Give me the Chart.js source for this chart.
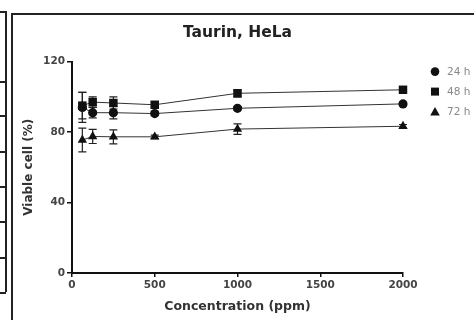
<!DOCTYPE html>
<html>
<head>
<meta charset="utf-8">
<script src="https://cdn.jsdelivr.net/npm/chart.js@4/dist/chart.umd.min.js"></script>
<style>
  html, body { margin: 0; padding: 0; background: #fff; overflow: hidden; }
  #wrap { position: relative; width: 474px; height: 320px; }
  #frame { position: absolute; left: 11px; top: 13px; width: 600px; height: 400px; border: 2px solid #222; }
  #table { position: absolute; left: 0; top: 11px; width: 5px; height: 281px; border-right: 2px solid #222; }
  .row { position: absolute; left: 0; width: 6px; height: 0; border-top: 2px solid #222; }
  #chartBox { position: absolute; left: 0; top: 0; width: 474px; height: 320px; }
</style>
</head>
<body>
<div id="wrap">
  <div id="table">
    <div class="row" style="top:0px"></div>
    <div class="row" style="top:70px"></div>
    <div class="row" style="top:104px"></div>
    <div class="row" style="top:140px"></div>
    <div class="row" style="top:175px"></div>
    <div class="row" style="top:210px"></div>
    <div class="row" style="top:246px"></div>
    <div class="row" style="top:281px"></div>
  </div>
  <div id="frame"></div>
  <div id="chartBox"><canvas id="taurinChart" width="474" height="320"></canvas></div>
</div>
<script>
// Données
const concentrations = [62.5, 125, 250, 500, 1000, 2000];
const seriesLabels = ['24 h', '48 h', '72 h'];
const viable24 = [94, 91, 91, 90.5, 93.5, 96];
const viable48 = [95, 97, 96.5, 95.5, 102, 104];
const viable72 = [75.5, 77.5, 77.3, 77.3, 81.7, 83.3];
const err24 = [8.5, 3, 3.5, 1, 1, 1];
const err48 = [7.5, 3, 3.5, 1.5, 2, 1];
const err72 = [6.7, 4, 4, 1, 3, 1];
const xTicks = [0, 500, 1000, 1500, 2000];
const yTicks = [0, 40, 80, 120];

const font = 'DejaVu Sans';
const ctx = document.getElementById('taurinChart').getContext('2d');

const toPoints = (vals) => vals.map((v, i) => ({ x: concentrations[i], y: v }));

// Barres d'erreur (dessinées sous les marqueurs)
const errorBars = {
    id: 'errorBars',
    beforeDatasetsDraw(chart) {
        const c = chart.ctx;
        const xs = chart.scales.x, ys = chart.scales.y;
        c.save();
        c.strokeStyle = '#222';
        c.lineWidth = 1.2;
        chart.data.datasets.forEach((ds) => {
            ds.data.forEach((p, i) => {
                const e = ds.errors[i];
                const px = xs.getPixelForValue(p.x);
                const top = ys.getPixelForValue(p.y + e);
                const bot = ys.getPixelForValue(p.y - e);
                c.beginPath();
                c.moveTo(px, top); c.lineTo(px, bot);
                c.moveTo(px - 4, top); c.lineTo(px + 4, top);
                c.moveTo(px - 4, bot); c.lineTo(px + 4, bot);
                c.stroke();
            });
        });
        c.restore();
    },
};

// Légende à droite
const sideLegend = {
    id: 'sideLegend',
    afterDraw(chart) {
        const c = chart.ctx;
        const area = chart.chartArea;
        c.save();
        chart.data.datasets.forEach((ds, i) => {
            const x = area.right + 32;
            const y = area.top + 10 + i * 20;
            c.fillStyle = '#111';
            c.beginPath();
            if (ds.pointStyle === 'circle') {
                c.arc(x, y, 4.3, 0, Math.PI * 2);
            } else if (ds.pointStyle === 'rect') {
                c.rect(x - 4, y - 4, 8, 8);
            } else {
                c.moveTo(x, y - 4.5); c.lineTo(x + 4.8, y + 3.8); c.lineTo(x - 4.8, y + 3.8); c.closePath();
            }
            c.fill();
            c.fillStyle = '#888';
            c.font = '10.5px "' + font + '"';
            c.textBaseline = 'middle';
            c.fillText(ds.label, x + 12, y + 0.5);
        });
        c.restore();
    },
};

const makeSet = (label, vals, errs, style, radius) => ({
    label: label,
    data: toPoints(vals),
    errors: errs,
    pointStyle: style,
    pointRadius: radius,
    pointBackgroundColor: '#111',
    pointBorderColor: '#111',
    pointBorderWidth: 0,
    borderColor: '#333',
    borderWidth: 1,
    showLine: true,
    tension: 0,
    clip: false,
});

const taurinChart = new Chart(ctx, {
    type: 'scatter',
    data: {
        datasets: [
            makeSet(seriesLabels[0], viable24, err24, 'circle', 4.6),
            makeSet(seriesLabels[1], viable48, err48, 'rect', 6),
            makeSet(seriesLabels[2], viable72, err72, 'triangle', 5.4),
        ],
    },
    options: {
        responsive: false,
        animation: false,
        layout: { padding: { left: 0, right: 71, top: 0, bottom: 0 } },
        plugins: {
            legend: { display: false },
            tooltip: { enabled: false },
            title: {
                display: true,
                text: 'Taurin, HeLa',
                color: '#222',
                fullSize: false,
                font: { family: font, size: 15.5, weight: 'bold' },
                padding: { top: 24, bottom: 19 },
            },
        },
        scales: {
            x: {
                type: 'linear',
                min: 0,
                max: 2000,
                afterFit: (s) => { s.height = 47; },
                afterBuildTicks: (s) => { s.ticks = xTicks.map((v) => ({ value: v })); },
                border: { color: '#111', width: 2 },
                grid: { drawOnChartArea: false, drawTicks: true, tickLength: 4, color: '#111', lineWidth: 1.5 },
                ticks: {
                    color: '#444', padding: 2, maxRotation: 0,
                    font: { family: font, size: 10.5, weight: 'bold' },
                    callback: (v) => String(v),
                },
                title: {
                    display: true,
                    text: 'Concentration (ppm)',
                    color: '#333',
                    font: { family: font, size: 12.5, weight: 'bold' },
                    padding: { top: 0, bottom: 6 },
                },
            },
            y: {
                min: 0,
                max: 120,
                afterFit: (s) => { s.width = 72; },
                afterBuildTicks: (s) => { s.ticks = yTicks.map((v) => ({ value: v })); },
                border: { color: '#111', width: 2 },
                grid: { drawOnChartArea: false, drawTicks: true, tickLength: 5, color: '#111', lineWidth: 1.5 },
                ticks: {
                    color: '#444', padding: 2,
                    font: { family: font, size: 10.5, weight: 'bold' },
                    callback: (v) => String(v),
                },
                title: {
                    display: true,
                    text: 'Viable cell (%)',
                    color: '#333',
                    font: { family: font, size: 12, weight: 'bold' },
                    padding: { top: 22, bottom: 0 },
                },
            },
        },
    },
    plugins: [errorBars, sideLegend],
});
</script>
</body>
</html>
